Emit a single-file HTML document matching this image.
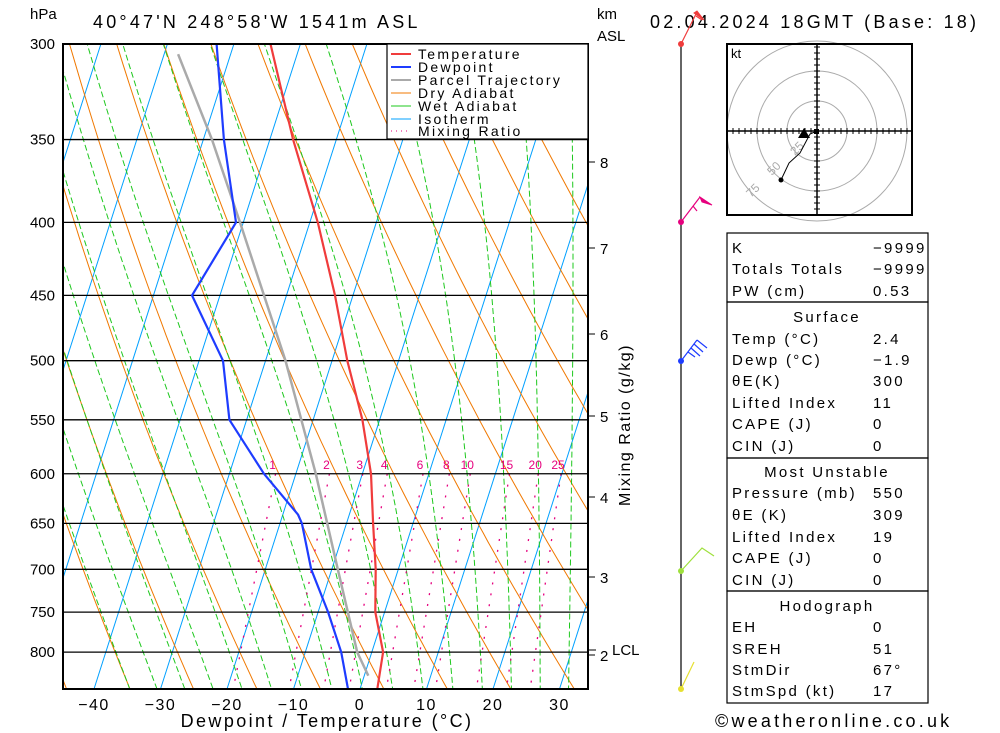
<!DOCTYPE html>
<html><head><meta charset="utf-8"><style>
html,body{margin:0;background:#fff;overflow:hidden;width:1000px;height:733px;}
svg{display:block;font-family:"Liberation Sans",sans-serif;}
</style></head><body>
<svg id="c" width="1000" height="733" viewBox="0 0 1000 733" xmlns="http://www.w3.org/2000/svg">
<defs><clipPath id="plotclip"><rect x="63" y="44" width="525" height="645"/></clipPath></defs>
<rect width="1000" height="733" fill="#fff"/>
<g id="bg" clip-path="url(#plotclip)"></g>
<g id="iso"></g>
<g id="series" clip-path="url(#plotclip)"></g>
<g id="axes"></g>
<g id="legend">
<rect x="387" y="44" width="201" height="95" fill="#fff" stroke="#000" stroke-width="1.2"/>
<g font-size="14" letter-spacing="2.3">
<line x1="391" y1="54" x2="411" y2="54" stroke="#f03c3c" stroke-width="2"/><text x="418" y="59">Temperature</text>
<line x1="391" y1="67" x2="411" y2="67" stroke="#1e3cff" stroke-width="2"/><text x="418" y="72">Dewpoint</text>
<line x1="391" y1="80" x2="411" y2="80" stroke="#aaa" stroke-width="2"/><text x="418" y="85">Parcel Trajectory</text>
<line x1="391" y1="93" x2="411" y2="93" stroke="#f07800"/><text x="418" y="98">Dry Adiabat</text>
<line x1="391" y1="106" x2="411" y2="106" stroke="#1ec81e"/><text x="418" y="111">Wet Adiabat</text>
<line x1="391" y1="119" x2="411" y2="119" stroke="#00a0ff"/><text x="418" y="124">Isotherm</text>
<line x1="391" y1="131" x2="411" y2="131" stroke="#e6007e" stroke-dasharray="1,4"/><text x="418" y="136">Mixing Ratio</text>
</g></g>
<g font-size="18" letter-spacing="3.2">
<text x="93" y="28">40°47'N  248°58'W  1541m  ASL</text>
<text x="650" y="28">02.04.2024  18GMT  (Base: 18)</text>
</g>
<text x="30" y="19" font-size="15">hPa</text>
<text x="597" y="19" font-size="15">km</text>
<text x="597" y="41" font-size="15">ASL</text>
<text x="327" y="727" font-size="18" letter-spacing="2.4" text-anchor="middle">Dewpoint / Temperature (°C)</text>
<text transform="translate(630,425) rotate(-90)" font-size="16" letter-spacing="1.5" text-anchor="middle">Mixing Ratio (g/kg)</text>
<g id="wind"></g>
<g id="hodo"></g>
<g id="tables" font-size="15" letter-spacing="2.3"></g>
<text x="715" y="727" font-size="18" letter-spacing="3.2">©weatheronline.co.uk</text>
</svg>
<script>
const tempP=[849,800,750,700,650,600,550,500,450,400,350,300];
const tempT=[2.6,1.7,-1.4,-3.4,-6.0,-8.7,-12.6,-17.7,-22.7,-28.8,-36.5,-44.5];
const dewP=[849,800,750,700,650,641,600,550,500,450,400,350,300];
const dewT=[-1.8,-4.6,-8.5,-13.1,-16.7,-17.7,-24.8,-32.6,-36.4,-44.2,-41.1,-46.9,-52.6];
const parcelP=[831,800,700,600,500,400,350,305];
const parcelT=[0.6,-2.2,-9.1,-17,-27,-40.5,-48.7,-57.9];
const isobars=[300,350,400,450,500,550,600,650,700,750,800];
const xTicks=[-40,-30,-20,-10,0,10,20,30];
const kmTicks=[8,7,6,5,4,3,2];
const kmY=[162,248,334,416,497,577,655];
const mixRatios=[1,2,3,4,6,8,10,15,20,25];
const NS="http://www.w3.org/2000/svg";
function yP(p){return 44+620*Math.log(p/300);}
function xT(t,p){return 360+6.65*t+(689-yP(p))*0.32;}
function mk(tag,attrs,parent){const e=document.createElementNS(NS,tag);for(const k in attrs)e.setAttribute(k,attrs[k]);parent.appendChild(e);return e;}
const bg=document.getElementById('bg');
for(let t=-120;t<=40;t+=10){
 const l=mk('line',{x1:xT(t,849),y1:yP(849),x2:xT(t,300),y2:yP(300),stroke:'#00a0ff','stroke-width':1},bg);
 
 
}
for(let th=220;th<=460;th+=10){
 let d='';for(let p=300;p<=850;p+=10){const t=th*Math.pow(p/1000,0.286)-273.15;d+=(p==300?'M':'L')+xT(t,p).toFixed(1)+','+yP(p).toFixed(1);}
 const e=mk('path',{d:d,fill:'none',stroke:'#f07800','stroke-width':1},bg);
 
 
}
function es(t){return 6.112*Math.exp(17.67*t/(t+243.5));}
for(let tw=-24;tw<=40;tw+=4){
 let T=tw+273.15,p=1000,pts=[];
 while(p>=295){pts.push([T-273.15,p]);
  const e=es(T-273.15),rs=0.622*e/(p-e),Lv=2.5e6,Rd=287,cp=1004;
  const dTdp=(Rd*T+Lv*rs)/(cp+Lv*Lv*rs*0.622/(Rd*T*T))/p;
  T-=dTdp*5;p-=5;}
 let d='';pts.forEach((q,i)=>{d+=(i?'L':'M')+xT(q[0],q[1]).toFixed(1)+','+yP(q[1]).toFixed(1);});
 const e=mk('path',{d:d,fill:'none',stroke:'#1ec81e','stroke-width':1,'stroke-dasharray':'6,3'},bg);
 
 
}
function tW(w,p){const e=w*p/(622+w),a=Math.log(e/6.112);return 243.5*a/(17.67-a);}
mixRatios.forEach(w=>{
 const e=mk('line',{x1:xT(tW(w,600),600),y1:yP(600),x2:xT(tW(w,849),849),y2:yP(849),stroke:'#e6007e','stroke-width':1.3,'stroke-dasharray':'2,9'},bg);
 
 
 const t=mk('text',{x:xT(tW(w,600),600)-3,y:yP(600)-5,'font-size':12,fill:'#e6007e','text-anchor':'middle'},bg);
 t.textContent=w;
 
 
});
const iso=document.getElementById('iso');
isobars.forEach(p=>{
 const l=mk('line',{x1:63,y1:yP(p),x2:588,y2:yP(p),stroke:'#000','stroke-width':1.3},iso);
 
 
 const t=mk('text',{x:55,y:yP(p)+5,'font-size':15,'text-anchor':'end'},iso);
 t.textContent=p;
 
 
});
const ser=document.getElementById('series');
function line(P,T,col,w,name){let d='';P.forEach((p,i)=>{d+=(i?'L':'M')+xT(T[i],p).toFixed(1)+','+yP(p).toFixed(1);});
 const e=mk('path',{d:d,fill:'none',stroke:col,'stroke-width':w,'stroke-linejoin':'round'},ser);
 
 }
line(parcelP,parcelT,'#aaaaaa',2.5,'parcel-trajectory');
line(dewP,dewT,'#1e3cff',2.2,'dewpoint-line');
line(tempP,tempT,'#f03c3c',2.2,'temperature-line');
const ax=document.getElementById('axes');
mk('rect',{x:63,y:44,width:525,height:645,fill:'none',stroke:'#000','stroke-width':2},ax);
mk('text',{x:612,y:655,'font-size':15},ax).textContent='LCL';
xTicks.forEach(t=>{const e=mk('text',{x:xT(t,849),y:710,'font-size':16,'text-anchor':'middle','letter-spacing':1.5},ax);e.textContent=(t<0?'−':'')+Math.abs(t);
 
 });
kmTicks.forEach((k,i)=>{mk('line',{x1:588,y1:kmY[i],x2:595,y2:kmY[i],stroke:'#000'},ax);
 const e=mk('text',{x:600,y:kmY[i]+6,'font-size':15},ax);e.textContent=k;
 
 });
mk('line',{x1:588,y1:650,x2:596,y2:650,stroke:'#000'},ax);
const wd=document.getElementById('wind');
mk('line',{x1:681,y1:44,x2:681,y2:689,stroke:'#000','stroke-width':1.2},wd);
const barbs=[[44,'#f03c3c','M681,44L696,14 M696,16l6,4','M694,13l10,7l-7,-9z'],[222,'#e6007e','M681,222L700,197 M693,206l4,5','M700,197l12,8l-10,-3z'],[361,'#1e3cff','M681,361L697,340 M697,340l10,8 M694,344l9,8 M691,348l9,8 M688,352l7,5',''],[571,'#9ee03c','M681,571L702,548L714,556',''],[689,'#e6e030','M681,689L694,662','']];
barbs.forEach(b=>{const g=mk('path',{d:b[2],fill:'none',stroke:b[1],'stroke-width':1.2},wd);
 
 
 if(b[3])mk('path',{d:b[3],fill:b[1],stroke:b[1]},wd);
 mk('circle',{cx:681,cy:b[0],r:3,fill:b[1]},wd);});
const h=document.getElementById('hodo');
const cx=817,cy=131;
[30,60,90].forEach(r=>mk('circle',{cx:cx,cy:cy,r:r,fill:'none',stroke:'#aaa','stroke-width':1},h));
mk('rect',{x:727,y:44,width:185,height:171,fill:'none',stroke:'#000','stroke-width':2},h);
mk('line',{x1:727,y1:cy,x2:912,y2:cy,stroke:'#000','stroke-width':1.5},h);
mk('line',{x1:cx,y1:44,x2:cx,y2:215,stroke:'#000','stroke-width':1.5},h);
for(let i=-15;i<=15;i++){if(!i)continue;mk('line',{x1:cx+i*6,y1:cy-3,x2:cx+i*6,y2:cy+3,stroke:'#000'},h);
 if(Math.abs(i)<=14)mk('line',{x1:cx-3,y1:cy+i*6,x2:cx+3,y2:cy+i*6,stroke:'#000'},h);}
mk('text',{x:731,y:58,'font-size':13},h).textContent='kt';
[['25',795,156],['50',772,176],['75',751,198]].forEach(l=>mk('text',{x:l[1],y:l[2],'font-size':12,fill:'#aaa',transform:'rotate(-45 '+l[1]+' '+l[2]+')'},h).textContent=l[0]);
mk('path',{d:'M817,131L810,134L800,153L789,163L781,180',fill:'none',stroke:'#000','stroke-width':1},h);
mk('rect',{x:814,y:129,width:5,height:5,fill:'#000'},h);
mk('circle',{cx:781,cy:180,r:2.5,fill:'#000'},h);
mk('path',{d:'M798,138L804,128L810,138z',fill:'#000'},h);
const tb=document.getElementById('tables');
[[233,69],[302,156],[458,133],[591,112]].forEach(b=>mk('rect',{x:727,y:b[0],width:201,height:b[1],fill:'none',stroke:'#000','stroke-width':1.2},tb));
const rows=[['K','−9999',247],['Totals Totals','−9999',268],['PW (cm)','0.53',290],['Temp (°C)','2.4',338],['Dewp (°C)','−1.9',359],['θE(K)','300',380],['Lifted Index','11',402],['CAPE (J)','0',423],['CIN (J)','0',445],['Pressure (mb)','550',492],['θE (K)','309',514],['Lifted Index','19',536],['CAPE (J)','0',557],['CIN (J)','0',579],['EH','0',626],['SREH','51',648],['StmDir','67°',669],['StmSpd (kt)','17',690]];
rows.forEach(r=>{const a=mk('text',{x:732,y:r[2]+6},tb);a.textContent=r[0];
 
 
 const b=mk('text',{x:873,y:r[2]+6},tb);b.textContent=r[1];
 
 });
[['Surface',316],['Most Unstable',471],['Hodograph',605]].forEach(r=>{const a=mk('text',{x:827,y:r[1]+6,'text-anchor':'middle'},tb);a.textContent=r[0];
 
 });
</script>
</body></html>
